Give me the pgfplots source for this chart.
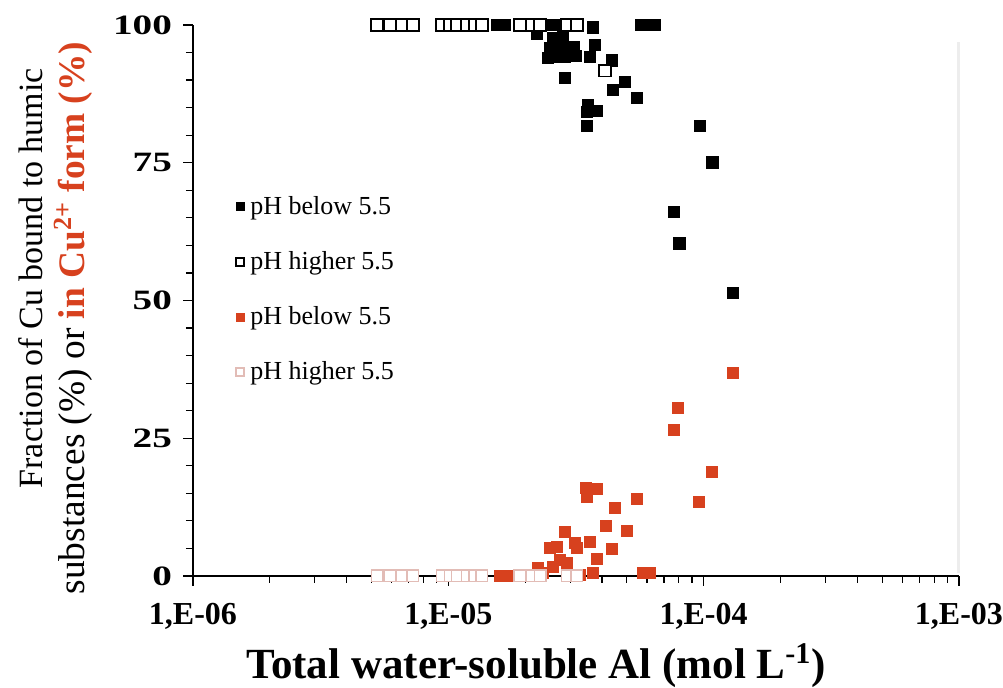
\documentclass[border=0pt]{standalone}
\usepackage{fontspec}
\setmainfont{Liberation Serif}
\newfontfamily\widefont[FakeStretch=1.4]{Liberation Serif}
\usepackage{pgfplots}
\pgfplotsset{compat=1.18}
\definecolor{cured}{RGB}{215,65,30}
\definecolor{lightred}{RGB}{226,188,182}
\begin{document}
\begin{tikzpicture}[x=1pt,y=1pt]
\path[use as bounding box] (-96.5,-56) rectangle (405,288);
\begin{axis}[
  scale only axis, width=383pt, height=275.5pt,
  at={(0,0)}, anchor=south west,
  xmode=log, xmin=1e-6, xmax=1e-3, ymin=0, ymax=100,
  axis x line*=bottom, axis y line*=left,
  axis line style={line width=0.7pt},
  clip=false,
  tick align=outside,
  major tick length=5pt, minor tick length=3.5pt,
  every tick/.style={black, line width=0.6pt},
  xtick={1e-6,1e-5,1e-4,1e-3},
  xticklabels={{1,E-06},{1,E-05},{1,E-04},{1,E-03}},
  ytick={0,25,50,75,100},
  yticklabels={0,25,50,75,100},
  minor ytick={5,10,15,20,30,35,40,45,55,60,65,70,80,85,90,95},
  xticklabel style={font=\fontsize{16}{16}\selectfont\bfseries, yshift=-5pt},
  yticklabel style={font=\fontsize{14}{14}\selectfont\widefont\bfseries, xshift=-2pt},
  xlabel={Total water-soluble Al (mol L\textsuperscript{-1})},
  xlabel style={font=\fontsize{21.5}{21.5}\selectfont\bfseries, at={(axis description cs:0.448,-0.163)}, anchor=center},
  ylabel={\hspace*{40pt}Fraction of Cu bound to humic\\{\fontsize{18.7}{21}\selectfont substances (\%) or \textcolor{cured}{\textbf{in Cu\textsuperscript{2+} form (\%)}}}},
  ylabel style={font=\fontsize{17}{21}\selectfont, align=center, at={(axis description cs:-0.18,0.468)}, anchor=center},
  legend style={at={(axis description cs:0.056,0.697)}, anchor=north west, draw=none, fill=none,
    font=\fontsize{13}{13}\selectfont, row sep=13pt, inner sep=0pt},
  legend cell align=left,
  legend image code/.code={\draw[mark repeat=2,mark phase=2,#1,mark size=2pt] plot coordinates {(0pt,0pt) (2pt,0pt) (4pt,0pt)};},
]
\draw[black!7, line width=1.5pt] (axis cs:1e-3,0.5) -- (axis cs:1e-3,97);
% pH below 5.5 (humic, black filled)
\addplot[only marks, mark=square*, mark size=2.9pt, draw=black, fill=black] coordinates {
(1.551e-5,100) (1.668e-5,100) (2.458e-5,100) (2.642e-5,100) (3.69e-5,99.6) (5.69e-5,100) (6.06e-5,100) (6.45e-5,100)
(2.226e-5,98.5) (2.571e-5,97.6) (2.813e-5,97.8) (2.502e-5,95.8) (2.739e-5,96.4) (2.997e-5,96.0) (2.571e-5,94.2) (2.865e-5,94.2) (3.163e-5,94.4) (2.458e-5,94.0) (3.107e-5,96.0)
(3.754e-5,96.4) (3.589e-5,94.2) (4.377e-5,93.6) (4.922e-5,89.7) (4.417e-5,88.2) (5.484e-5,86.8) (2.865e-5,90.4) (3.525e-5,85.5) (3.822e-5,84.4) (3.493e-5,84.2) (3.493e-5,81.7)
(9.68e-5,81.7) (1.08e-4,75.1) (7.66e-5,66.1) (8.02e-5,60.4) (1.30e-4,51.4)
};
\addlegendentry{\hspace*{1pt}pH below 5.5}
% pH higher 5.5 (humic, black open)
\addplot[only marks, mark=square*, mark size=2.9pt, draw=black, fill=white, mark options={line width=0.9pt}] coordinates {
(5.26e-6,100) (5.91e-6,100) (6.59e-6,100) (7.27e-6,100) (9.45e-6,100) (1.016e-5,100) (1.082e-5,100) (1.184e-5,100) (1.272e-5,100) (1.355e-5,100) (1.909e-5,100) (2.127e-5,100) (2.287e-5,100) (2.917e-5,100) (3.19e-5,100) (4.11e-5,91.7)
};
\addlegendentry{\hspace*{1pt}pH higher 5.5}
% pH below 5.5 (Cu2+, red filled)
\addplot[only marks, mark=square*, mark size=2.8pt, draw=cured, fill=cured] coordinates {
(1.30e-4,36.8) (7.94e-5,30.5) (7.66e-5,26.5) (1.08e-4,18.9) (9.6e-5,13.4) (5.48e-5,14.0) (4.50e-5,12.3) (4.15e-5,9.1) (5.01e-5,8.2) (4.38e-5,4.9) (3.46e-5,16.0) (3.82e-5,15.8) (3.49e-5,14.3)
(2.865e-5,8.0) (2.666e-5,5.3) (2.502e-5,5.1) (3.135e-5,6.0) (3.19e-5,5.1) (3.589e-5,6.2) (3.822e-5,3.1) (2.739e-5,2.9) (2.917e-5,2.4) (2.571e-5,1.6) (2.245e-5,1.5) (2.350e-5,0.5) (3.078e-5,0.2) (3.69e-5,0.5) (3.280e-5,0.2) (1.594e-5,0) (1.698e-5,0) (5.79e-5,0.5) (6.17e-5,0.5)
};
\addlegendentry{\hspace*{1pt}pH below 5.5}
% pH higher 5.5 (Cu2+, light open)
\addplot[only marks, mark=square*, mark size=2.8pt, draw=lightred, fill=white, mark options={line width=0.9pt}] coordinates {
(5.26e-6,0) (5.91e-6,0) (6.59e-6,0) (7.27e-6,0) (9.45e-6,0) (1.016e-5,0) (1.082e-5,0) (1.184e-5,0) (1.272e-5,0) (1.355e-5,0) (1.909e-5,0) (2.127e-5,0) (2.287e-5,0) (2.917e-5,0) (3.19e-5,0)
};
\addlegendentry{\hspace*{1pt}pH higher 5.5}
\end{axis}
\end{tikzpicture}
\end{document}
